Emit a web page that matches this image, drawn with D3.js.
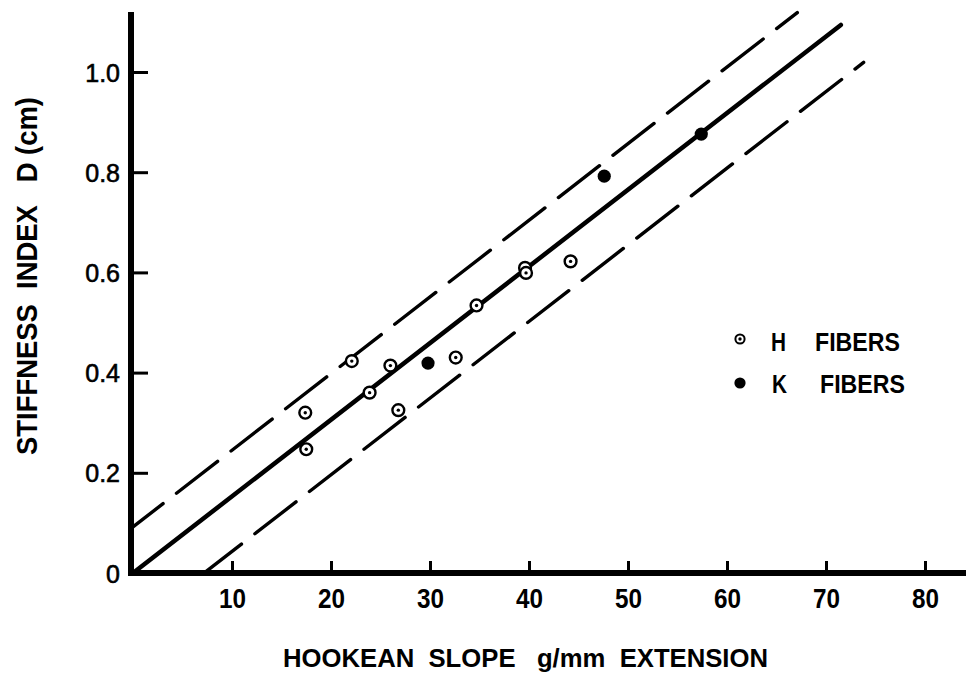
<!DOCTYPE html>
<html>
<head>
<meta charset="utf-8">
<script src="https://cdn.jsdelivr.net/npm/d3@7"></script>
<style>
  html, body { margin: 0; padding: 0; background: #fff; }
  svg { display: block; }
  text { font-family: "Liberation Sans", "Noto Sans", sans-serif; fill: #000; }
</style>
</head>
<body>
<svg id="chart" width="966" height="675"></svg>
<script>
// ---------------- data ----------------
const xTicks = [10, 20, 30, 40, 50, 60, 70, 80];
const yTicks = [0, 0.2, 0.4, 0.6, 0.8, 1.0];
const yTickLabels = ["0", "0.2", "0.4", "0.6", "0.8", "1.0"];

// H fibers (open circle with dot)
const hX = [17.4, 17.5, 22.1, 23.9, 26.0, 26.8, 32.6, 34.7, 39.6, 39.7, 44.2];
const hY = [0.320, 0.247, 0.423, 0.360, 0.414, 0.325, 0.430, 0.534, 0.609, 0.599, 0.622];
// K fibers (filled circle)
const kX = [29.8, 47.6, 57.4];
const kY = [0.419, 0.792, 0.876];

// fitted line and its limits
const lineSlope = 0.0153;
const lineIntercepts = [0, 0.092, -0.110];   // solid, upper dashed, lower dashed
const lineStartX = [0, 0, 7.2];
const lineEndX = [71.5, 67.1, 73.8];

const legendLabels = ["H", "K"];
const xTitle = "HOOKEAN  SLOPE   g/mm  EXTENSION";
const yTitle = "STIFFNESS  INDEX   D (cm)";

// ---------------- layout ----------------
const svg = d3.select("#chart");
const x = d3.scaleLinear().domain([0, 80]).range([133, 925]);
const y = d3.scaleLinear().domain([0, 1]).range([573, 72]);

// lines
const lineGen = d3.line().x(d => x(d[0])).y(d => y(d[1]));
const lineStyles = [
  { w: 4.5, dash: null, off: 0 },
  { w: 3.4, dash: "52,17", off: 14 },
  { w: 3.4, dash: "52,17", off: 5 }
];
lineIntercepts.forEach((b, i) => {
  const pts = [lineStartX[i], lineEndX[i]].map(v => [v, b + lineSlope * v]);
  svg.append("path")
    .attr("d", lineGen(pts))
    .attr("fill", "none")
    .attr("stroke", "#000")
    .attr("stroke-width", lineStyles[i].w)
    .attr("stroke-linecap", "round")
    .attr("stroke-dasharray", lineStyles[i].dash)
    .attr("stroke-dashoffset", lineStyles[i].off);
});

// axes
const xAxis = d3.axisBottom(x).tickValues(xTicks).tickSize(-12).tickPadding(0).tickFormat(d3.format("d"));
const gx = svg.append("g").attr("transform", `translate(0,${y(0)})`).call(xAxis);
gx.select(".domain").remove();
gx.selectAll(".tick line").attr("stroke", "#000").attr("stroke-width", 3);
gx.selectAll(".tick text")
  .attr("y", 0).attr("dy", 0)
  .attr("transform", "translate(0,35) scale(0.9,1)")
  .style("font-size", "27px").style("font-weight", "bold").attr("fill", "#000");

const yAxis = d3.axisLeft(y).tickValues(yTicks).tickSize(-17).tickPadding(0)
  .tickFormat((d, i) => yTickLabels[i]);
const gy = svg.append("g").attr("transform", `translate(${x(0) - 2},0)`).call(yAxis);
gy.select(".domain").remove();
gy.selectAll(".tick line").attr("stroke", "#000").attr("stroke-width", 3)
  .attr("x1", 0);
gy.selectAll(".tick").filter(d => d === 0).select("line").remove();
gy.selectAll(".tick text")
  .attr("x", -11).attr("dy", "0.36em")
  .style("font-size", "25px").attr("fill", "#000")
  .attr("stroke", "#000").attr("stroke-width", 0.6);

// axis lines (thick)
svg.append("line")
  .attr("x1", x(0) - 2).attr("x2", x(0) - 2)
  .attr("y1", y(1.12)).attr("y2", y(0) + 3)
  .attr("stroke", "#000").attr("stroke-width", 6);
svg.append("line")
  .attr("x1", x(0) - 5).attr("x2", 966)
  .attr("y1", y(0)).attr("y2", y(0))
  .attr("stroke", "#000").attr("stroke-width", 6);

// points
function openMarker(g, cx, cy, r, sw) {
  g.append("circle").attr("cx", cx).attr("cy", cy).attr("r", r)
    .attr("fill", "#fff").attr("stroke", "#000").attr("stroke-width", sw);
  g.append("circle").attr("cx", cx).attr("cy", cy).attr("r", 1.7).attr("fill", "#000");
}
const gp = svg.append("g");
hX.forEach((v, i) => openMarker(gp, x(v), y(hY[i]), 5.9, 2.4));
kX.forEach((v, i) => {
  gp.append("circle").attr("cx", x(v)).attr("cy", y(kY[i])).attr("r", 6.6).attr("fill", "#000");
});

// legend
const lg = svg.append("g");
openMarker(lg, 740, 339, 4.6, 2);
lg.append("circle").attr("cx", 740).attr("cy", 383).attr("r", 5.6).attr("fill", "#000");
const legendY = [351, 393];
const legendLetterX = [771, 772];
const legendWordX = [815, 820];
legendLabels.forEach((t, i) => {
  lg.append("text").attr("x", legendLetterX[i]).attr("y", legendY[i])
    .style("font-size", "25px").style("font-weight", "bold")
    .attr("textLength", 15).attr("lengthAdjust", "spacingAndGlyphs").text(t);
  lg.append("text").attr("x", legendWordX[i]).attr("y", legendY[i])
    .style("font-size", "25px").style("font-weight", "bold")
    .attr("textLength", 85).attr("lengthAdjust", "spacingAndGlyphs")
    .text("FIBERS");
});

// titles
svg.append("text")
  .attr("x", 283).attr("y", 667)
  .style("font-size", "26px").style("font-weight", "bold")
  .attr("textLength", 485).attr("lengthAdjust", "spacingAndGlyphs")
  .style("white-space", "pre")
  .text(xTitle);

svg.append("text")
  .attr("transform", "translate(37,455) rotate(-90)")
  .style("font-size", "29px").style("font-weight", "bold")
  .attr("textLength", 358).attr("lengthAdjust", "spacingAndGlyphs")
  .style("white-space", "pre")
  .text(yTitle);
</script>
</body>
</html>
